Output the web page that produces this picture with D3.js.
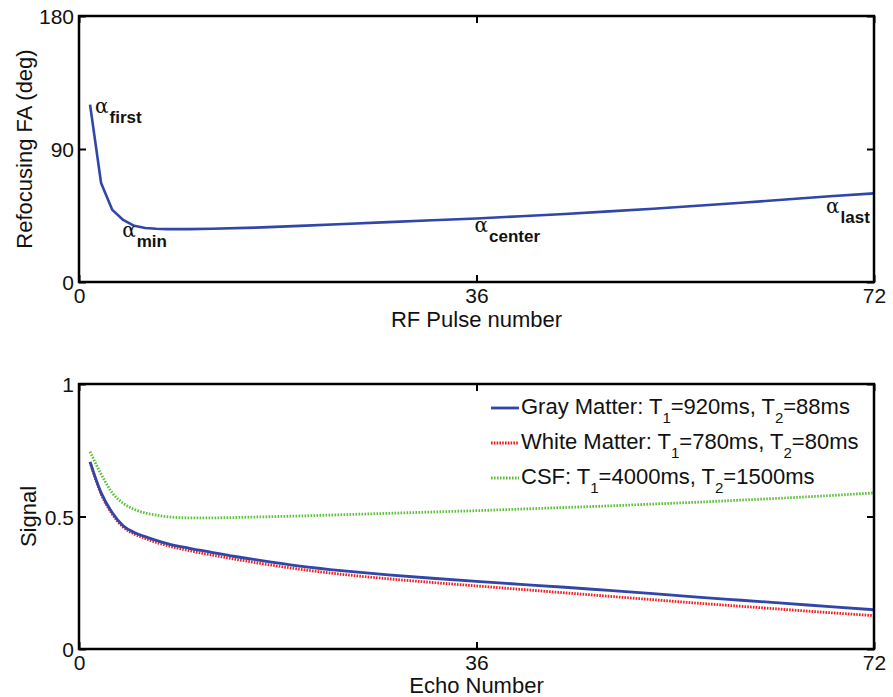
<!DOCTYPE html>
<html>
<head>
<meta charset="utf-8">
<script src="https://cdn.jsdelivr.net/npm/d3@7"></script>
<style>
  html, body { margin: 0; padding: 0; background: #fff; }
  svg { display: block; font-family: "Liberation Sans", Arial, sans-serif; }
</style>
</head>
<body>
<svg id="chart" width="893" height="697"></svg>
<script>
// ---------- data ----------
const pulseNumbers = [1,2,3,4,5,6,7,8,10,12,16,20,24,28,32,36,40,44,48,52,56,60,64,68,72];
const refocusingFA = [120,67,49,42,38,36.5,36,35.8,35.8,36,36.8,38,39.2,40.5,41.8,43,44.5,46,47.8,49.6,51.6,53.6,55.8,58,60];

const echoNumbers = [1,2,3,4,5,6,7,8,10,12,14,16,20,24,28,32,36,40,44,48,52,56,60,64,68,72];
const grayMatter  = [0.706,0.59,0.515,0.465,0.44,0.424,0.41,0.398,0.38,0.365,0.35,0.337,0.313,0.295,0.28,0.267,0.255,0.244,0.233,0.221,0.209,0.196,0.184,0.172,0.16,0.148];
const whiteMatter = [0.705,0.585,0.51,0.46,0.434,0.417,0.402,0.39,0.371,0.355,0.34,0.326,0.301,0.281,0.265,0.251,0.238,0.225,0.212,0.199,0.186,0.173,0.161,0.149,0.137,0.126];
const csf         = [0.745,0.66,0.59,0.55,0.527,0.513,0.505,0.499,0.495,0.495,0.496,0.498,0.502,0.507,0.512,0.517,0.522,0.528,0.534,0.54,0.547,0.554,0.562,0.57,0.579,0.589];

const xTicks = [0, 36, 72];
const faTicks = [0, 90, 180];
const signalTicks = [0, 0.5, 1];

const seriesNames = ["Gray Matter", "White Matter", "CSF"];
const seriesT1 = ["920ms", "780ms", "4000ms"];
const seriesT2 = ["88ms", "80ms", "1500ms"];

const annotations = [
  { x: 1, y: 120, sub: "first" },
  { x: 5, y: 36, sub: "min" },
  { x: 36, y: 43, sub: "center" },
  { x: 72, y: 60, sub: "last" }
];

// ---------- drawing ----------
const svg = d3.select("#chart");
const left = 79, right = 874;
const FS = 21;
const x = d3.scaleLinear().domain([0, 72]).range([left, right]);
const yTop = d3.scaleLinear().domain([0, 180]).range([282, 16]);
const yBot = d3.scaleLinear().domain([0, 1]).range([649, 384]);

function frame(y, yT, fmt) {
  const g = svg.append("g");
  const [y0, y1] = y.range();
  const tick = 7;
  g.append("g").attr("transform", `translate(0,${y0})`)
    .call(d3.axisBottom(x).tickValues(xTicks).tickSizeInner(-tick).tickSizeOuter(0).tickPadding(6));
  g.append("g").attr("transform", `translate(0,${y1})`)
    .call(d3.axisTop(x).tickValues(xTicks).tickSizeInner(-tick).tickSizeOuter(0).tickFormat(""));
  const ay = g.append("g").attr("transform", `translate(${left},0)`)
    .call(d3.axisLeft(y).tickValues(yT).tickSizeInner(-tick).tickSizeOuter(0).tickPadding(5).tickFormat(fmt));
  g.append("g").attr("transform", `translate(${right},0)`)
    .call(d3.axisRight(y).tickValues(yT).tickSizeInner(-tick).tickSizeOuter(0).tickFormat(""));
  g.selectAll(".domain").remove();
  g.selectAll(".tick line").attr("stroke", "#000").attr("stroke-width", 2);
  g.selectAll(".tick text").attr("font-size", FS).attr("fill", "#111")
    .attr("font-family", "Liberation Sans, Arial, sans-serif");
  ay.selectAll(".tick text").attr("dy", "0.38em");
  g.append("rect").attr("x", left).attr("y", y1).attr("width", right - left).attr("height", y0 - y1)
    .attr("fill", "none").attr("stroke", "#000").attr("stroke-width", 2.5);
  return g;
}

// top panel
const topLine = d3.line().x((d, i) => x(pulseNumbers[i])).y(d => yTop(d));
svg.append("path").datum(refocusingFA).attr("d", topLine)
  .attr("fill", "none").attr("stroke", "#3046a8").attr("stroke-width", 2.6).attr("stroke-linejoin", "round");
frame(yTop, faTicks, d3.format("d"));

// annotations
const annOffsets = { first: [5, 8], min: [-12, 8], center: [-2, 14], last: [-48, 20] };
annotations.forEach(a => {
  const [dx, dy] = annOffsets[a.sub];
  const t = svg.append("text").attr("x", x(a.x) + dx).attr("y", yTop(a.y) + dy)
    .attr("fill", "#111");
  t.append("tspan").text("α").attr("font-family", "DejaVu Serif, serif").attr("font-size", 20);
  t.append("tspan").text(a.sub).attr("dy", 10).attr("dx", 1).attr("font-size", 17).attr("font-weight", "bold");
});

// axis titles top
svg.append("text").attr("x", (left + right) / 2).attr("y", 327).attr("text-anchor", "middle")
  .attr("font-size", 22).attr("fill", "#111").text("RF Pulse number");
svg.append("text").attr("transform", `translate(32,${(16 + 282) / 2}) rotate(-90)`).attr("text-anchor", "middle")
  .attr("font-size", 22).attr("fill", "#111").text("Refocusing FA (deg)");

// bottom panel
const botLine = d3.line().x((d, i) => x(echoNumbers[i])).y(d => yBot(d)).curve(d3.curveMonotoneX);
const seriesData = [grayMatter, whiteMatter, csf];
const seriesStyle = [
  { color: "#3046a8", dash: null, width: 2.8 },
  { color: "#f51d1d", dash: "1.6,1.2", width: 2.8 },
  { color: "#5cc23a", dash: "1.6,1.4", width: 2.8 }
];
[2, 1, 0].forEach(i => {
  const p = svg.append("path").datum(seriesData[i]).attr("d", botLine)
    .attr("fill", "none").attr("stroke", seriesStyle[i].color).attr("stroke-width", seriesStyle[i].width);
  if (seriesStyle[i].dash) p.attr("stroke-dasharray", seriesStyle[i].dash);
});
frame(yBot, signalTicks, d3.format(""));

svg.append("text").attr("x", (left + right) / 2).attr("y", 693).attr("text-anchor", "middle")
  .attr("font-size", 22).attr("fill", "#111").text("Echo Number");
svg.append("text").attr("transform", `translate(36,${(384 + 649) / 2}) rotate(-90)`).attr("text-anchor", "middle")
  .attr("font-size", 22).attr("fill", "#111").text("Signal");

// legend
const legend = svg.append("g");
seriesNames.forEach((name, i) => {
  const cy = 408 + i * 35;
  const ln = legend.append("line").attr("x1", 491).attr("x2", 519).attr("y1", cy).attr("y2", cy)
    .attr("stroke", seriesStyle[i].color).attr("stroke-width", seriesStyle[i].width);
  if (seriesStyle[i].dash) ln.attr("stroke-dasharray", seriesStyle[i].dash);
  const t = legend.append("text").attr("x", 521).attr("y", cy + 6).attr("font-size", 22).attr("fill", "#111");
  t.append("tspan").text(name + ": T");
  t.append("tspan").text("1").attr("font-size", 15).attr("dy", 9);
  t.append("tspan").text("=" + seriesT1[i] + ", T").attr("dy", -9);
  t.append("tspan").text("2").attr("font-size", 15).attr("dy", 9);
  t.append("tspan").text("=" + seriesT2[i]).attr("dy", -9);
});
</script>
</body>
</html>
